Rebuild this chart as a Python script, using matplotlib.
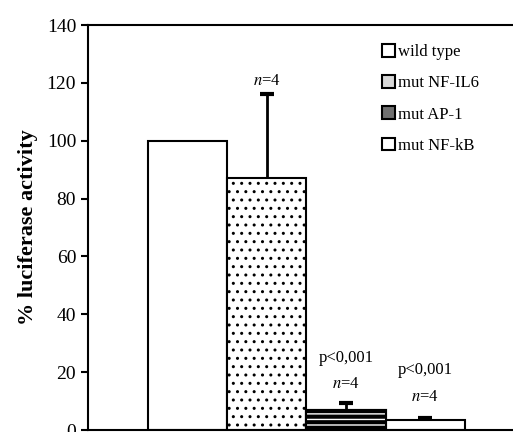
import matplotlib
matplotlib.use("Agg")
from matplotlib import pyplot as plt
from matplotlib.patches import Patch

# data
constructs = ["wild type", "mut NF-IL6", "mut AP-1", "mut NF-kB"]
activity = [100, 87, 7, 3.5]
errors = [0, 29, 2.5, 0.8]

plt.rcParams['font.family'] = ['Liberation Serif', 'DejaVu Serif']
plt.rcParams['mathtext.fontset'] = 'stix'
plt.rcParams['hatch.linewidth'] = 1.0

fig = plt.figure(figsize=(5.13, 4.32), dpi=100)
ax = fig.add_axes([0.1715, 0.0046, 0.83, 0.9375])

x = list(range(len(constructs)))
faces = ['white', 'white', 'black', 'white']
hatches = [None, '..', None, None]

for i in x:
    ax.bar(i, activity[i], width=1.0, color=faces[i], edgecolor='black',
           linewidth=1.5, hatch=hatches[i], zorder=2)

# white stripes on the AP-1 bar
ax.bar(2, activity[2], width=1.0, color='none', edgecolor='white',
       linewidth=0, hatch='---', zorder=3)
ax.bar(2, activity[2], width=1.0, color='none', edgecolor='black',
       linewidth=1.5, zorder=4)

# upper error bars only
for i in x[1:]:
    top = activity[i] + errors[i]
    ax.vlines(i, activity[i], top, color='black', linewidth=2, zorder=5)
    ax.hlines(top, i - 0.09, i + 0.09, color='black', linewidth=3, zorder=5)

ax.text(1, 118, "$n$=4", ha='center', va='bottom', fontsize=12)
ax.text(2, 22, "p<0,001", ha='center', va='bottom', fontsize=12)
ax.text(2, 13, "$n$=4", ha='center', va='bottom', fontsize=12)
ax.text(3, 18, "p<0,001", ha='center', va='bottom', fontsize=12)
ax.text(3, 8.5, "$n$=4", ha='center', va='bottom', fontsize=12)

ax.set_xlim(-1.26, 4.12)
ax.set_ylim(0, 140)
ax.set_yticks(range(0, 141, 20))
ax.set_xticks([])
ax.tick_params(axis='y', direction='out', length=5, width=1.5, labelsize=14)
ax.spines['right'].set_visible(False)
for s in ['left', 'top', 'bottom']:
    ax.spines[s].set_linewidth(1.5)
ax.set_ylabel("% luciferase activity", fontsize=16, fontweight='bold', labelpad=6)

handles = [
    Patch(facecolor='white', edgecolor='black', linewidth=1.5),
    Patch(facecolor='#d8d8d8', edgecolor='black', linewidth=1.5),
    Patch(facecolor='#707070', edgecolor='black', linewidth=1.5),
    Patch(facecolor='white', edgecolor='black', linewidth=1.5),
]
ax.legend(handles, constructs, loc='upper left', bbox_to_anchor=(0.655, 0.99),
          frameon=False, fontsize=12, handlelength=0.8, handleheight=0.8,
          handletextpad=0.15, labelspacing=0.9)

fig.savefig("out.png", dpi=100)
